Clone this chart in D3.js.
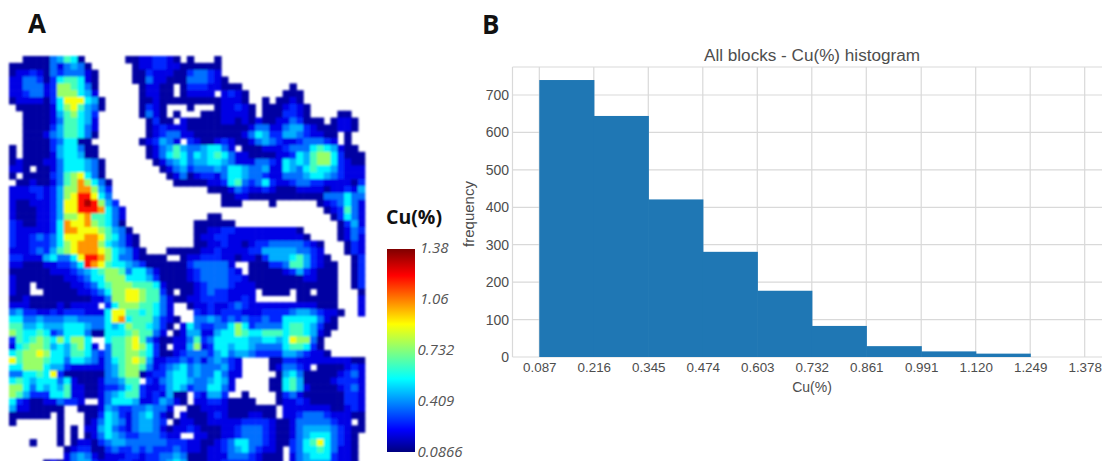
<!DOCTYPE html>
<html><head><meta charset="utf-8">
<script src="https://cdn.jsdelivr.net/npm/d3@7"></script>
<style>html,body{margin:0;background:#fff;overflow:hidden}svg{display:block}text{font-family:"Liberation Sans",Arial,sans-serif}</style>
</head><body><svg id="c" width="1105" height="461"></svg>
<script>
// Heat-map cells: one character per block, '.' = no block
const cellLevels = {"0":0.125,"1":0.2,"2":0.28,"3":0.37,"4":0.45,"5":0.54,"6":0.645,"7":0.76,"8":0.89,"9":1.03,"a":1.2,"b":1.33};
const gridWest = [
"..000034650......00112210.","000000313430......01122110","0112103233310.....00211100","1133202566510.....00311000",
"1133312776530......01100.0","1123312777541......01100.0","01111025888540.....0010000",".0000015786430.....0210...",
"..00001467542......0310.0.","..00001366541.......0200.1","..00002466531.......012111","..00013466530.......012331",
"..0000235500.......012431","0.00002455300.......013464","0.00001455400.......013565","01000113555430.......01345",
"110.0013555430........0134","0.000023678530.........013",".00100136797530.........00","111221247799742...........",
"1111212478aa853...........","1001112488aba742..........","100011248"+"8aaa9531.........","10001124778966531.........",
"21001125988976530.........","211111259988876430........","2112323588899865310.......","2112223578999754310.......",
"11123246789998754310...000","2211145335"+"8aa9753310"+"000..0","1100011223"+"5a98655432"+"000000","0000001112"+"3456776355"+"310000",
"1000000011"+"2355777555"+"420000","100.000001"+"1235677766"+"651000","100..00000"+"1123577887"+"6620.0","0010000000"+"0011377887"+"663100",
"1110000101"+"111.257776"+"6531..","3422112122"+"2111588665"+"6531..","5533433344"+"3333589566"+"64210.","6644544455"+"5433545766"+"5420.1",
"7655652355"+"5300555676"+"631.01","2656765757"+"75..566786"+"310011","1567764546"+"751.366787"+"520.11","5677875546"+"6532366776"+"520012",
"8677765535"+"5431356787"+"411223","5577754421"+"1111346776"+"312345","3355658200"+"0000346770"+"122455","5654555351"+"000133466."+"213455",
"7753545461"+"1001223562"+"112454","7642225561"+"1001345662"+"121400","5210011322"+"1..1355541"+"124310","41100000.."+"0001432233"+"4331..",
"000000.0.."+".002542134"+"5310.1","0......0.."+".013543134"+"432.01",".......0.0"+".114532134"+"431011",".......0.0"+".013543223"+"33211.",
"...0...0.0"+"1102344333"+"333222","........01"+"2200232232"+"322232","........13"+"4310111221"+"223343",".....01013"+"4421112211"+"223454"
];
const gridEast = [
"0...0.....................","00000.....................","23321.....................","333210....................",
"22211000.......0..........","1111.1210.....000.........","000001110..0.0010.........","0...011210.0001210........",
"..00011110.0002210....00..","000001101"+"010011"+"32000.0110.","0000000001"+"3311344210"+"00110.","1000000013"+"5422443211"+"00.0..",
"2100121001"+"3432112333"+"21.0..","3345531.00"+"0111233356"+"54100.","3545653110"+"0001125467"+"752000","3445543111"+"3321545467"+"752100",
"2333435543"+"3411543565"+"542111","0122135543"+"3211333455"+"432111","0001125632"+"3521123322"+"111102","...0001321"+"1210001111"+"011214",
".....00110"+"0000000000"+"333533",".....000.."+"..0......0"+"123531","...................."+"012631","...00................"+"02531",
".000000..............."+"0241",".0011221111111110....."+"0132",".01122111111111110...."+"0131",".0011211012233333210..."+"021",
"0011211112"+"2444443321"+"..."+"021","1122211011"+"0244456421"+"0..."+"02","2333331..0"+"0022366421"+"00.."+"02","12333321.0"+"0000124210"+"00.."+"02",
"1233332210"+"0000000110"+"00.."+"02","0123332111"+"0000000000"+"00.."+"02","0123221111"+".0000.00.0"+"00...0","1122221121"+"......0000"+"00...1",
"0112112321"+"1111111110"+"00...1",".212122211"+"1222234432"+"110..1",".334323232"+"2322555553"+"10....","5322335752"+"3333566542"+"00....",
"4411455765"+"5666566541"+"0.....","3623555554"+"4554587730"+"......","4712554554"+"3333566520"+"......","3332453443"+"2222443211"+"0.....",
"23134321.."+"..00221111"+"111100","34333421.."+"..013321.0"+"000121","34335311.."+"...0453000"+"001231","4334541..."+"..00564000"+"012221",
"2335531..."+"..00564100"+"001231",".21442..0."+"...0231000"+"000221",".112210000"+"...0112100"+"000221","0011110000"+"000.111111"+"100121",
"0001210001"+"100.112333"+"211100","1001111122"+"2210013333"+"3211.0","2100011233"+"3210013444"+"432100",".110011233"+"3210013455"+"53210.",
"1100123553"+"3210023568"+"53210.","1101123453"+"2110.23556"+"53110.","0001113332"+"1000.13455"+"52110.","0001122222"+"1000.13444"+"42110."
];
// Colour bar
const barTicks = [1.38,1.06,0.732,0.409,0.0866];
const barLabels = ["1.38","1.06","0.732","0.409","0.0866"];
const jetStops = [[0,"#00007f"],[0.11,"#0000ff"],[0.36,"#00ffff"],[0.63,"#ffff00"],[0.87,"#ff0000"],[1,"#7f0000"]];
// Histogram of panel B
const binEdges = [0.087,0.216,0.345,0.474,0.603,0.732,0.861,0.991,1.120,1.249,1.378];
const edgeLabels = ["0.087","0.216","0.345","0.474","0.603","0.732","0.861","0.991","1.120","1.249","1.378"];
const frequency = [740,644,421,281,177,83,29,15,9,0];
const freqTicks = [0,100,200,300,400,500,600,700];

const svg = d3.select("#c");
const defs = svg.append("defs");
defs.append("filter").attr("id","soft").attr("x","-2%").attr("y","-2%").attr("width","104%").attr("height","104%")
  .append("feGaussianBlur").attr("stdDeviation",1.05);

// ---- Panel A
const cMin = 0.0866, cMax = 1.38;
const tOf = d3.scaleLinear().domain([cMin,cMax]).range([0,1]);
const jet = d3.scaleLinear().domain(jetStops.map(d=>d[0])).range(jetStops.map(d=>d[1])).interpolate(d3.interpolateRgb);
const cols = d3.range(52), rows = d3.range(60);
const gx = d3.scaleBand().domain(cols).range([9,9+52*6.84]);
const gy = d3.scaleBand().domain(rows).range([56,56+60*6.84]);
const cells = [];
rows.forEach(r=>{
  const s = (gridWest[r]||"").padEnd(26,".").slice(0,26) + (gridEast[r]||"").padEnd(26,".").slice(0,26);
  cols.forEach(c=>{ const v = cellLevels[s[c]]; if(v!==undefined) cells.push({r,c,v}); });
});
svg.append("g").attr("filter","url(#soft)").selectAll("rect").data(cells).join("rect")
  .attr("x",d=>gx(d.c)).attr("y",d=>gy(d.r)).attr("width",gx.bandwidth()+0.6).attr("height",gy.bandwidth()+0.6)
  .attr("fill",d=>jet(tOf(d.v)));

svg.append("text").text("A").attr("x",28).attr("y",33).style("font-family","'Open Sans'").style("font-weight",700).style("font-size","26px").attr("fill","#111");
svg.append("text").text("B").attr("x",482).attr("y",34).style("font-family","'Open Sans'").style("font-weight",700).style("font-size","26px").attr("fill","#111");

const lg = defs.append("linearGradient").attr("id","jetbar").attr("x1",0).attr("x2",0).attr("y1",1).attr("y2",0);
jetStops.forEach(s=>lg.append("stop").attr("offset",s[0]).attr("stop-color",s[1]));
const barY = d3.scaleLinear().domain([cMin,cMax]).range([452,249]);
svg.append("rect").attr("x",387).attr("y",barY(cMax)).attr("width",28).attr("height",barY(cMin)-barY(cMax)).attr("fill","url(#jetbar)");
svg.append("text").text("Cu(%)").attr("x",386).attr("y",224).style("font-family","'Open Sans'").style("font-weight",700).style("font-size","19.5px").attr("fill","#111");
const barLabelY = d3.scaleLinear().domain([0,4]).range([247,451]);
svg.append("g").selectAll("text").data(barTicks).join("text")
  .text((d,i)=>barLabels[i]).attr("x",(d,i)=>i<2?420:417.5).attr("y",(d,i)=>barLabelY(i)+5.5)
  .style("font-family","'Open Sans'").style("font-style","italic").style("font-size","15px").attr("fill","#555");

// ---- Panel B
const x = d3.scaleLinear().domain([0.087,1.378]).range([539.3,1084.7]);
const y = d3.scaleLinear().domain([0,700]).range([357,95]);
const plotL = 512.5, plotR = 1102, plotT = 67, plotB = 357;
const grid = svg.append("g").attr("stroke","#d9d9d9").attr("stroke-width",1.2).attr("fill","none");
grid.selectAll("line.h").data(freqTicks).join("line").attr("class","h")
  .attr("x1",plotL).attr("x2",plotR).attr("y1",d=>y(d)).attr("y2",d=>y(d));
grid.selectAll("line.v").data(binEdges).join("line").attr("class","v")
  .attr("x1",d=>x(d)).attr("x2",d=>x(d)).attr("y1",plotT).attr("y2",plotB);
grid.append("line").attr("x1",plotL).attr("x2",plotL).attr("y1",plotT).attr("y2",plotB);
grid.append("line").attr("x1",plotL).attr("x2",plotR).attr("y1",plotT).attr("y2",plotT);

svg.append("g").selectAll("rect").data(frequency).join("rect")
  .attr("x",(d,i)=>x(binEdges[i])).attr("width",(d,i)=>x(binEdges[i+1])-x(binEdges[i])+(d>0?0.6:0))
  .attr("y",d=>y(d)).attr("height",d=>y(0)-y(d)).attr("fill","#1f77b4");

const axB = d3.axisBottom(x).tickValues(binEdges).tickFormat((d,i)=>edgeLabels[i]).tickSize(0).tickPadding(0);
const gB = svg.append("g").attr("transform","translate(0,368)").call(axB);
gB.select(".domain").remove();
gB.selectAll("text").attr("y",0).attr("dy","0.32em").style("font-size","13.4px").attr("fill","#4d4d4d");
const axL = d3.axisLeft(y).tickValues(freqTicks).tickSize(0).tickPadding(0);
const gL = svg.append("g").attr("transform","translate(509,0)").call(axL);
gL.select(".domain").remove();
gL.selectAll("text").attr("x",0).attr("dy","0.32em").style("font-size","14px").attr("fill","#4d4d4d");

svg.append("text").text("All blocks - Cu(%) histogram").attr("x",704).attr("y",61).attr("textLength",216).attr("lengthAdjust","spacingAndGlyphs").style("font-size","16px").attr("fill","#4d4d4d");
svg.append("text").text("Cu(%)").attr("x",812).attr("y",392).attr("text-anchor","middle").style("font-size","14px").attr("fill","#4d4d4d");
svg.append("text").text("frequency").attr("transform","translate(474,214) rotate(-90)").attr("text-anchor","middle").style("font-size","15px").attr("fill","#4d4d4d");
</script></body></html>
